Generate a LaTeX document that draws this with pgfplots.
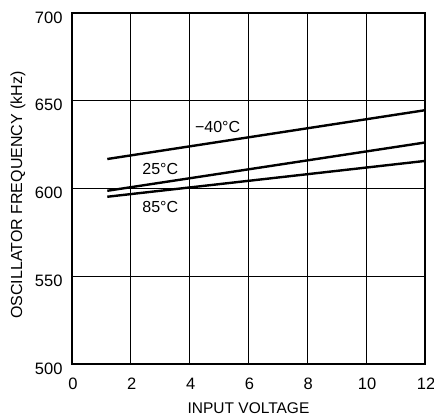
\documentclass[border=0pt]{standalone}
\usepackage{fontspec}
\setmainfont{Liberation Sans}
\usepackage{pgfplots}
\pgfplotsset{compat=1.18}

\begin{document}
\begin{tikzpicture}
\begin{axis}[
  at={(0pt,0pt)}, anchor=south west,
  scale only axis,
  width=353pt, height=351pt,
  xmin=0, xmax=12, ymin=500, ymax=700,
  xtick={0,2,...,12},
  ytick={500,550,...,700},
  major tick length=0pt,
  grid=major,
  major grid style={black, line width=0.8pt},
  axis line style={black, line width=1.5pt},
  /pgf/number format/assume math mode=true,
  tick label style={font=\fontsize{16.5pt}{18pt}\selectfont},
  xticklabel style={anchor=center, yshift=-20pt, xshift=1pt},
  yticklabel style={anchor=east, xshift=-6pt, yshift=-4.5pt},
  clip=false,
]
% -40 degC
\addplot[black, line width=2.4pt] coordinates {(1.2,616.8) (12,644.6)};
% 25 degC
\addplot[black, line width=2.4pt] coordinates {(1.2,598.7) (12,626.2)};
% 85 degC
\addplot[black, line width=2.4pt] coordinates {(1.2,595.3) (12,615.7)};
\begin{scope}[font=\fontsize{16pt}{18pt}\selectfont]
\node at (axis cs:4.95,635) {−40°C};
\node at (axis cs:3.0,611.2) {25°C};
\node at (axis cs:3.0,589.5) {85°C};
\end{scope}
\end{axis}
% axis titles
\node[font=\fontsize{15.5pt}{17pt}\selectfont] at (176.5pt,-44pt) {INPUT VOLTAGE};
\node[font=\fontsize{16pt}{18pt}\selectfont, rotate=90] at (-54pt,169pt) {OSCILLATOR FREQUENCY (kHz)};
\pgfresetboundingbox
\path[use as bounding box] (-72pt,-55pt) rectangle (362pt,364pt);
\end{tikzpicture}
\end{document}
